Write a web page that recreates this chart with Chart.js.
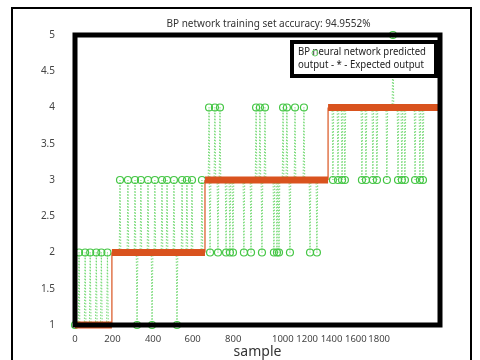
<!DOCTYPE html>
<html lang="en">
<head>
    <meta charset="UTF-8">
    <title>BP network training set accuracy</title>
    <style>
        body {
            margin: 0;
            background-color: #FFFFFF;
        }
        #wrap {
            position: relative;
            width: 480px;
            height: 360px;
            overflow: hidden;
        }
        #frame {
            position: absolute;
            left: 11px;
            top: 7px;
            width: 457px;
            height: 420px;
            border: 2px solid #000000;
        }
        #myChart {
            position: absolute;
            left: 0;
            top: 0;
        }
    </style>
    <script src="https://cdn.jsdelivr.net/npm/chart.js"></script>
</head>
<body>
    <div id="wrap">
        <div id="frame"></div>
        <canvas id="myChart" width="480" height="360"></canvas>
    </div>

    <script>
        // Expected output: class changes at these sample numbers (step line)
        var expectedX = [0, 182, 182, 641, 641, 1248, 1248, 1800];
        var expectedY = [1, 1, 2, 2, 3, 3, 4, 4];

        // Samples where the network predicted a wrong class
        var wrongSamples = [
            20, 50, 75, 105, 130, 160,
            222, 261, 296, 325, 360, 394, 429, 454, 488, 528, 552, 577, 626,
            306, 380, 503,
            666, 705, 745, 764, 779, 833, 868, 922, 981, 996, 1006, 1060, 1159, 1193,
            661, 690, 715, 893, 912, 937, 1026, 1045, 1085, 1129,
            1272, 1297, 1317, 1331, 1415, 1435, 1469, 1489, 1538, 1593, 1612, 1627, 1677, 1701, 1716,
            1568
        ];
        var wrongPredicted = [
            2, 2, 2, 2, 2, 2,
            3, 3, 3, 3, 3, 3, 3, 3, 3, 3, 3, 3, 3,
            1, 1, 1,
            2, 2, 2, 2, 2, 2, 2, 2, 2, 2, 2, 2, 2, 2,
            4, 4, 4, 4, 4, 4, 4, 4, 4, 4,
            3, 3, 3, 3, 3, 3, 3, 3, 3, 3, 3, 3, 3, 3, 3,
            5
        ];
        // correct predictions whose circle is still visible
        var shownCorrectX = [0];
        var shownCorrectY = [1];

        // Axis labels
        var xTickLabels = ['0', '200', '400', '600', '800', '1000', '1200', '1400', '1600', '1800'];
        var xTickPos = [0, 185, 385, 580, 780, 1025, 1145, 1265, 1385, 1500];
        var yTickLabels = ['1', '1.5', '2', '2.5', '3', '3.5', '4', '4.5', '5'];

        var titleText = 'BP network training set accuracy: 94.9552%';
        var legendLines = ['BP neural network predicted', 'output - * - Expected output'];

        var fontFamily = '"Noto Sans", "Open Sans", sans-serif';

        function trueClass(s) {
            for (var i = 0; i < expectedX.length - 1; i++) {
                if (s >= expectedX[i] && s <= expectedX[i + 1] && expectedY[i] === expectedY[i + 1]) {
                    return expectedY[i];
                }
            }
            return expectedY[expectedY.length - 1];
        }

        var expectedPts = expectedX.map(function(x, i) { return {x: x, y: expectedY[i]}; });

        var predPts = [];
        shownCorrectX.forEach(function(x, i) {
            predPts.push({x: x, y: shownCorrectY[i], mark: true});
            predPts.push({x: x, y: null});
        });
        wrongSamples.forEach(function(s, i) {
            var t = trueClass(s);
            predPts.push({x: s - 4, y: t});
            predPts.push({x: s, y: wrongPredicted[i], mark: true});
            predPts.push({x: s + 4, y: t});
            predPts.push({x: s + 4, y: null});
        });

        // Rahmen, Titel und Legende
        var decor = {
            id: 'decor',
            afterDatasetsDraw: function(chart) {
                var ctx = chart.ctx, a = chart.chartArea;
                ctx.save();
                ctx.strokeStyle = '#000000';
                ctx.lineWidth = 5;
                ctx.strokeRect(a.left, a.top, a.right - a.left, a.bottom - a.top);

                // legend box
                var bx = a.right - 148, by = a.top + 7, bw = 144, bh = 34;
                ctx.fillStyle = '#FFFFFF';
                ctx.fillRect(bx, by, bw, bh);
                ctx.lineWidth = 4;
                ctx.strokeRect(bx, by, bw, bh);
                ctx.fillStyle = '#222222';
                ctx.font = '11px ' + fontFamily;
                ctx.textBaseline = 'middle';
                ctx.textAlign = 'left';
                ctx.fillText(legendLines[0], bx + 6, by + 10, 128);
                ctx.fillText(legendLines[1], bx + 6, by + 23, 126);
                ctx.strokeStyle = '#6fd46f';
                ctx.lineWidth = 1;
                ctx.beginPath();
                ctx.arc(bx + 23, by + 11, 3, 0, Math.PI * 2);
                ctx.stroke();

                // title
                ctx.fillStyle = '#333333';
                ctx.textAlign = 'center';
                ctx.fillText(titleText, (a.left + a.right) / 2 + 11, 24, 204);
                ctx.restore();
            }
        };

        var ctx = document.getElementById('myChart').getContext('2d');
        var myChart = new Chart(ctx, {
            type: 'scatter',
            data: {
                datasets: [{
                    label: 'Expected output',
                    data: expectedPts,
                    showLine: true,
                    borderColor: '#D9531E',
                    backgroundColor: '#D9531E',
                    borderWidth: 1.2,
                    borderCapStyle: 'butt',
                    pointRadius: 0,
                    clip: false,
                    segment: {
                        borderWidth: function(c) { return c.p0.parsed.y === c.p1.parsed.y ? 7 : 1.2; }
                    }
                }, {
                    label: 'BP neural network predicted output',
                    data: predPts,
                    showLine: true,
                    spanGaps: false,
                    borderColor: 'rgba(110, 215, 110, 0.9)',
                    borderWidth: 1,
                    borderDash: [1.5, 1.5],
                    pointRadius: function(c) { return c.raw && c.raw.mark ? 3.5 : 0; },
                    pointBorderColor: '#45C645',
                    pointBackgroundColor: 'rgba(255,255,255,0)',
                    pointBorderWidth: 1.2,
                    clip: false
                }]
            },
            options: {
                responsive: false,
                animation: false,
                layout: {
                    padding: { left: 0, right: 40, top: 35, bottom: 0 }
                },
                plugins: {
                    legend: { display: false },
                    tooltip: { enabled: false }
                },
                scales: {
                    x: {
                        type: 'linear',
                        min: 0,
                        max: 1800,
                        afterBuildTicks: function(s) {
                            s.ticks = xTickPos.map(function(v) { return {value: v}; });
                        },
                        afterFit: function(s) { s.height = 35; },
                        grid: { display: false },
                        border: { display: false },
                        ticks: {
                            autoSkip: false,
                            maxRotation: 0,
                            padding: 1,
                            color: '#444444',
                            font: { family: fontFamily, size: 9.5 },
                            callback: function(v, i) { return xTickLabels[i]; }
                        },
                        title: {
                            display: true,
                            text: 'sample',
                            color: '#333333',
                            font: { family: fontFamily, size: 14 },
                            padding: 0
                        }
                    },
                    y: {
                        min: 1,
                        max: 5,
                        afterBuildTicks: function(s) {
                            s.ticks = yTickLabels.map(function(l) { return {value: parseFloat(l)}; });
                        },
                        afterFit: function(s) { s.width = 75; },
                        grid: { display: false },
                        border: { display: false },
                        ticks: {
                            padding: 12,
                            color: '#444444',
                            font: { family: fontFamily, size: 10 },
                            callback: function(v, i) { return yTickLabels[i]; }
                        }
                    }
                }
            },
            plugins: [decor]
        });
    </script>
</body>
</html>
